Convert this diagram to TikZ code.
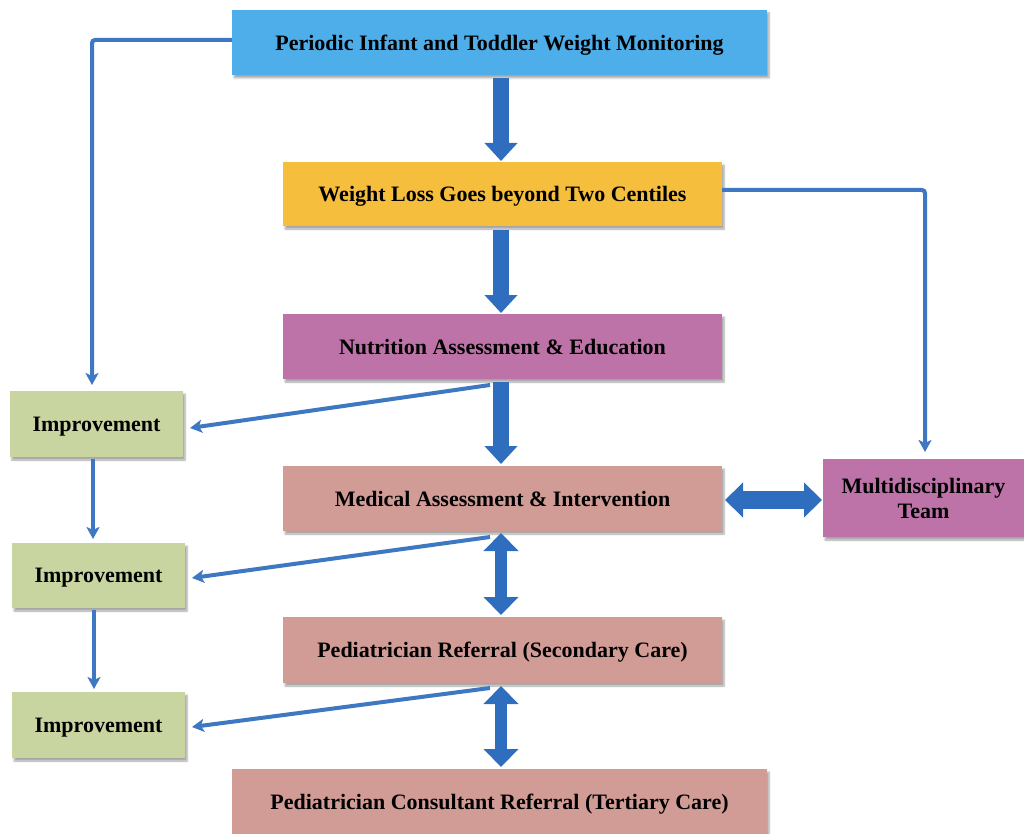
\documentclass[tikz,border=0pt]{standalone}
\usepackage{fontspec}
\setmainfont{Liberation Serif}
\usetikzlibrary{arrows.meta,shadows.blur}
\definecolor{cblue}{HTML}{4DAEEA}
\definecolor{cyellow}{HTML}{F5BE3D}
\definecolor{cpurple}{HTML}{BD73A8}
\definecolor{cpink}{HTML}{D29C96}
\definecolor{cgreen}{HTML}{C9D5A0}
\definecolor{arrfat}{HTML}{2F6DBF}
\definecolor{arrthin}{HTML}{3E78C2}
\tikzset{
  box/.style={inner sep=0pt, outer sep=0pt, align=center, text=black,
    font=\fontsize{22}{25}\selectfont\bfseries,
    blur shadow={shadow xshift=2pt, shadow yshift=-3pt, shadow blur steps=6, shadow opacity=35}},
  one/.style={text depth=0pt},
  fat/.style={draw=arrfat, line width=16pt, -{Triangle[width=32pt,length=18pt]}},
  fatdouble/.style={draw=arrfat, line width=12pt, {Triangle[width=34pt,length=18pt]}-{Triangle[width=34pt,length=18pt]}},
  fathz/.style={draw=arrfat, line width=18pt, {Triangle[width=34pt,length=18pt]}-{Triangle[width=34pt,length=18pt]}},
  thin/.style={draw=arrthin, line width=4pt, rounded corners=3pt, -{Stealth[width=13pt,length=12pt,inset=3pt]}},
}
\begin{document}
\begin{tikzpicture}[x=1pt,y=-1pt]
\useasboundingbox (0,0) rectangle (1024,834);
% boxes
\node[box, one, fill=cblue, minimum width=535pt, minimum height=65pt] (top) at (499.5,42.5) {Periodic Infant and Toddler Weight Monitoring};
\node[box, one, fill=cyellow, minimum width=439pt, minimum height=64pt] (yel) at (502.5,194) {Weight Loss Goes beyond Two Centiles};
\node[box, one, fill=cpurple, minimum width=439pt, minimum height=65pt] (nut) at (502.5,346.5) {Nutrition Assessment \& Education};
\node[box, one, fill=cpink, minimum width=439pt, minimum height=65pt] (med) at (502.5,498.5) {Medical Assessment \& Intervention};
\node[box, one, fill=cpink, minimum width=439pt, minimum height=66pt] (ped) at (502.5,650) {Pediatrician Referral (Secondary Care)};
\node[box, one, fill=cpink, minimum width=535pt, minimum height=66pt] (con) at (499.5,802) {Pediatrician Consultant Referral (Tertiary Care)};
\node[box, fill=cpurple, minimum width=201pt, minimum height=78pt] (mul) at (923.5,498) {Multidisciplinary\\Team};
\node[box, one, fill=cgreen, minimum width=173pt, minimum height=66pt] (imp1) at (96.5,424) {Improvement};
\node[box, one, fill=cgreen, minimum width=173pt, minimum height=65pt] (imp2) at (98.5,575.5) {Improvement};
\node[box, one, fill=cgreen, minimum width=173pt, minimum height=66pt] (imp3) at (98.5,725) {Improvement};
% fat arrows
\draw[fat] ([xshift=1.5pt,yshift=-3pt]top.south) -- ([xshift=-1.5pt,yshift=1pt]yel.north);
\draw[fat] ([xshift=-1.5pt,yshift=-4pt]yel.south) -- ([xshift=-1.5pt,yshift=1pt]nut.north);
\draw[fat] ([xshift=-1.5pt,yshift=-3pt]nut.south) -- ([xshift=-1.5pt,yshift=2pt]med.north);
\draw[fatdouble] ([xshift=-1.5pt,yshift=-2pt]med.south) -- ([xshift=-1.5pt,yshift=2pt]ped.north);
\draw[fatdouble] ([xshift=-1.5pt,yshift=-3pt]ped.south) -- ([xshift=1.5pt,yshift=2pt]con.north);
\draw[fathz] ([xshift=3pt,yshift=-1.5pt]med.east) -- ([xshift=-1pt,yshift=-1.5pt]mul.west |- med.east);
% thin connectors
\draw[thin] ([yshift=2.5pt]top.west) -| ([xshift=-4.5pt,yshift=6pt]imp1.north);
\draw[thin] ([yshift=4pt]yel.east) -| ([xshift=1.5pt,yshift=7pt]mul.north);
\draw[thin] ([xshift=-3.5pt,yshift=-2pt]imp1.south) -- ([xshift=-5.5pt,yshift=4pt]imp2.north);
\draw[thin] ([xshift=-4.5pt,yshift=-2pt]imp2.south) -- ([xshift=-4.5pt,yshift=3pt]imp3.north);
\draw[thin] ([xshift=-12.5pt,yshift=-6pt]nut.south) -- ([xshift=7pt,yshift=-4pt]imp1.east);
\draw[thin] ([xshift=-12.5pt,yshift=-6pt]med.south) -- ([xshift=7pt,yshift=-2.5pt]imp2.east);
\draw[thin] ([xshift=-12.5pt,yshift=-5pt]ped.south) -- ([xshift=7pt,yshift=-2pt]imp3.east);
\end{tikzpicture}
\end{document}
